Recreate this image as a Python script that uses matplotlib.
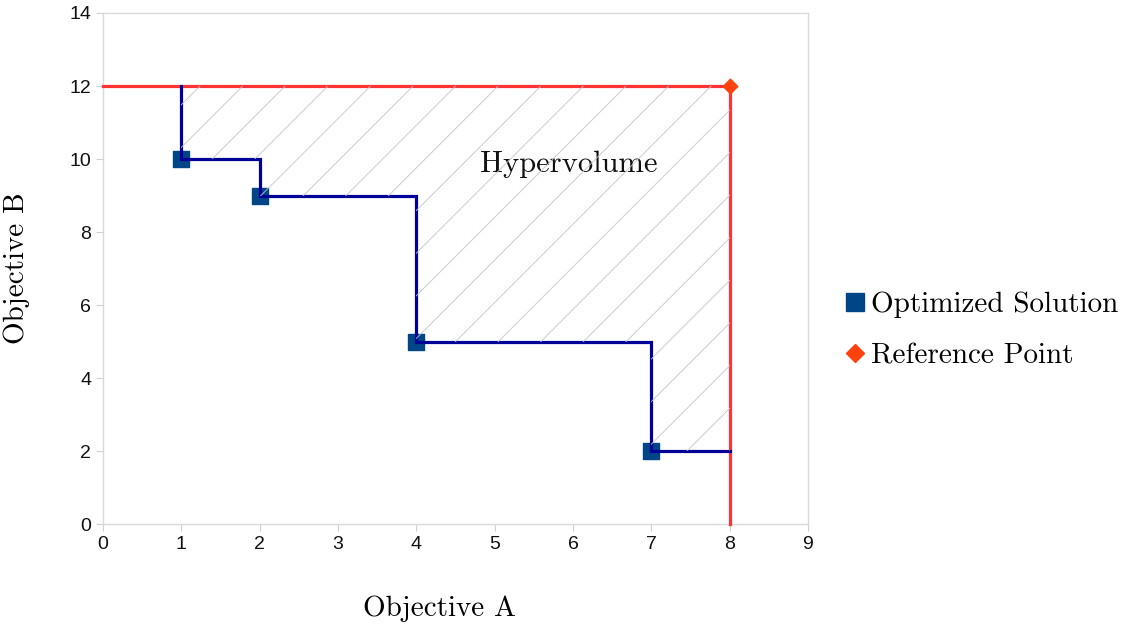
import numpy as np
import matplotlib
matplotlib.use("Agg")
import matplotlib.pyplot as plt
from matplotlib.patches import Polygon
from matplotlib.lines import Line2D
from matplotlib.transforms import IdentityTransform

# Data
sol_x = [1, 2, 4, 7]
sol_y = [10, 9, 5, 2]
ref_x = 8
ref_y = 12
x_ticks = list(range(0, 10))
y_ticks = list(range(0, 16, 2))

SERIF = ["cmr10", "DejaVu Serif"]
plt.rcParams["font.family"] = ["Liberation Sans", "DejaVu Sans"]
plt.rcParams["axes.unicode_minus"] = False

fig = plt.figure(figsize=(11.28, 6.28), dpi=100)
ax = fig.add_axes([0.0913, 0.1656, 0.6250, 0.8137])
ax.set_xlim(0, 9)
ax.set_ylim(0, 14)
ax.set_xticks(x_ticks)
ax.set_yticks(y_ticks)
ax.tick_params(labelsize=14, length=5, color="#d0d0d0", labelcolor="#111111")
for s in ax.spines.values():
    s.set_color("#d9d9d9")
    s.set_linewidth(1)

# step path (attainment front)
step_x = [sol_x[0]]
step_y = [ref_y]
for i in range(len(sol_x)):
    step_x.append(sol_x[i]); step_y.append(sol_y[i])
    nx = sol_x[i + 1] if i + 1 < len(sol_x) else ref_x
    step_x.append(nx); step_y.append(sol_y[i])

# Hatched hypervolume region
poly_pts = list(zip(step_x, step_y)) + [(ref_x, ref_y)]
patch = Polygon(poly_pts, closed=True, facecolor="none", edgecolor="none",
                transform=ax.transData)
ax.add_patch(patch)
disp = ax.transData.transform(np.array(poly_pts))
xmin, ymin = disp.min(axis=0)
xmax, ymax = disp.max(axis=0)
spacing = 42.6
cs = np.arange(ymin - xmax - spacing, ymax - xmin + spacing, spacing)
for c in cs:
    xs = np.array([xmin - 50, xmax + 50])
    ln = Line2D(xs, xs + c, transform=IdentityTransform(), color="#c4c4c4",
                linewidth=0.6)
    ln.set_clip_path(patch)
    fig.add_artist(ln)

ax.scatter(sol_x, sol_y, marker="s", s=120, color="#004586", zorder=4)
ax.plot(step_x, step_y, color="#000099", linewidth=2.3, zorder=5,
        solid_joinstyle="miter")
# reference lines
ax.plot([0, ref_x], [ref_y, ref_y], color="#ff3333", linewidth=2.3, zorder=3,
        clip_on=False)
ax.plot([ref_x, ref_x], [ref_y, 0], color="#ff3333", linewidth=2.3, zorder=3,
        clip_on=False)
ax.scatter([ref_x], [ref_y], marker="D", s=55, color="#ff420e", zorder=6)

ax.text(5.95, 9.86, "Hypervolume", family=SERIF, fontsize=22,
        ha="center", va="center", color="#111111")
ax.set_xlabel("Objective A", family=SERIF, fontsize=21, labelpad=30)
ax.xaxis.set_label_coords(0.478, -0.139)
ax.set_ylabel("Objective B", family=SERIF, fontsize=21, labelpad=28)

handles = [
    Line2D([], [], linestyle="none", marker="s", markersize=13,
           color="#004586", label="Optimized Solution"),
    Line2D([], [], linestyle="none", marker="D", markersize=9,
           color="#ff420e", label="Reference Point"),
]
fig.legend(handles=handles, loc="center left", bbox_to_anchor=(0.727, 0.474),
           frameon=False, prop={"family": SERIF, "size": 21},
           handlelength=0.6, handletextpad=0.25, labelspacing=0.85)

fig.savefig("out.png", dpi=100)
